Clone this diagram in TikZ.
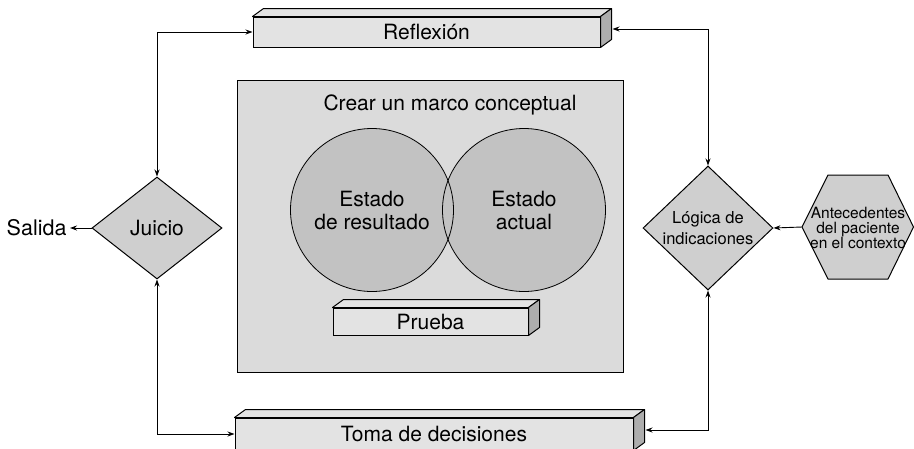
\documentclass[tikz,border=0pt]{standalone}
\usepackage{fontspec}
\setmainfont{TeX Gyre Heros}
\usetikzlibrary{shapes.geometric,arrows.meta,calc}
\definecolor{boxgray}{gray}{0.86}
\definecolor{circlegray}{gray}{0.76}
\definecolor{diamondgray}{gray}{0.81}
\definecolor{bargray}{gray}{0.89}
\definecolor{sidegray}{gray}{0.68}
\tikzset{
    bar-box/.style = {draw, fill=bargray, line width=1pt, rectangle, inner sep=0pt, font=\fontsize{21}{24}\selectfont},
    frame-box/.style = {draw, fill=boxgray, line width=1pt, rectangle, minimum width=386pt, minimum height=292pt},
    venn-circle/.style = {circle, fill=circlegray, minimum size=163pt, inner sep=0pt, align=center, font=\fontsize{21}{23}\selectfont},
    decision/.style = {diamond, draw, fill=diamondgray, line width=1pt, inner sep=0pt, minimum width=130pt, minimum height=102pt, align=center},
    link/.style = {line width=0.9pt, {Stealth[length=7pt,width=5pt]}-{Stealth[length=7pt,width=5pt]}},
    one-way/.style = {line width=0.9pt, -{Stealth[length=7pt,width=5pt]}},
}
% top and side faces of a bar
\newcommand{\barsides}[1]{%
    \filldraw[fill=bargray, line width=1pt, line join=round] (#1.north west) -- ++(11,-8) -- ($(#1.north east)+(11,-8)$) -- (#1.north east) -- cycle;
    \filldraw[fill=sidegray, line width=1pt, line join=round] (#1.north east) -- ++(11,-8) -- ($(#1.south east)+(11,-8)$) -- (#1.south east) -- cycle;
}

\begin{document}
\begin{tikzpicture}[x=1pt, y=-1pt]
\useasboundingbox (0,0) rectangle (914,448);

% centre frame
\node [frame-box] (marco) at (430,226) {};
\node [font=\fontsize{21}{24}\selectfont] (marco-title) at (450,105) {Crear un marco conceptual};
\node [venn-circle] (resultado) at (372,210) {Estado\\de resultado};
\node [venn-circle] (actual) at (524,210) {Estado\\actual};
\draw [line width=0.8pt] (resultado.center) circle (81.5);
\draw [line width=0.8pt] (actual.center) circle (81.5);
\node [bar-box, minimum width=195pt, minimum height=27pt] (prueba) at (430.5,321.5) {Prueba};
\barsides{prueba}

% bars
\node [bar-box, minimum width=347pt, minimum height=30pt] (reflexion) at (426.5,32) {Reflexión};
\barsides{reflexion}
\node [bar-box, minimum width=398pt, minimum height=32pt] (toma) at (434,434) {Toma de decisiones};
\barsides{toma}
\coordinate (reflexion-side) at ($(reflexion.east)+(12,-3)$);
\coordinate (toma-side) at ($(toma.east)+(12,-4)$);

% decisions
\node [decision, font=\fontsize{21}{24}\selectfont] (juicio) at (157,228) {Juicio};
\node [decision, font=\fontsize{16.5}{21}\selectfont] (logica) at (708,228) {Lógica de\\indicaciones};
\node [font=\fontsize{21.5}{24}\selectfont, anchor=east] (salida) at (70,228) {Salida};

% context hexagon
\coordinate (antecedentes-w) at (802,227);
\filldraw [fill=diamondgray, line width=1pt, line join=round] (antecedentes-w) -- ++(26,-52) -- ++(60,0) -- ++(25.5,52) -- ++(-25.5,52) -- ++(-60,0) -- cycle;
\node [font=\fontsize{15.5}{15}\selectfont, align=center, inner sep=0pt] (antecedentes) at (858,228) {Antecedentes\\del paciente\\en el contexto};

% connectors
\draw [link] (juicio.north) |- (reflexion.west);
\draw [link] (logica.north) |- (reflexion-side);
\draw [link] (juicio.south) |- (toma.west);
\draw [link] (logica.south) |- (toma-side);
\draw [one-way] (juicio.west) -- (salida.east);
\draw [one-way] (antecedentes-w) -- (logica.east);
\end{tikzpicture}
\end{document}
